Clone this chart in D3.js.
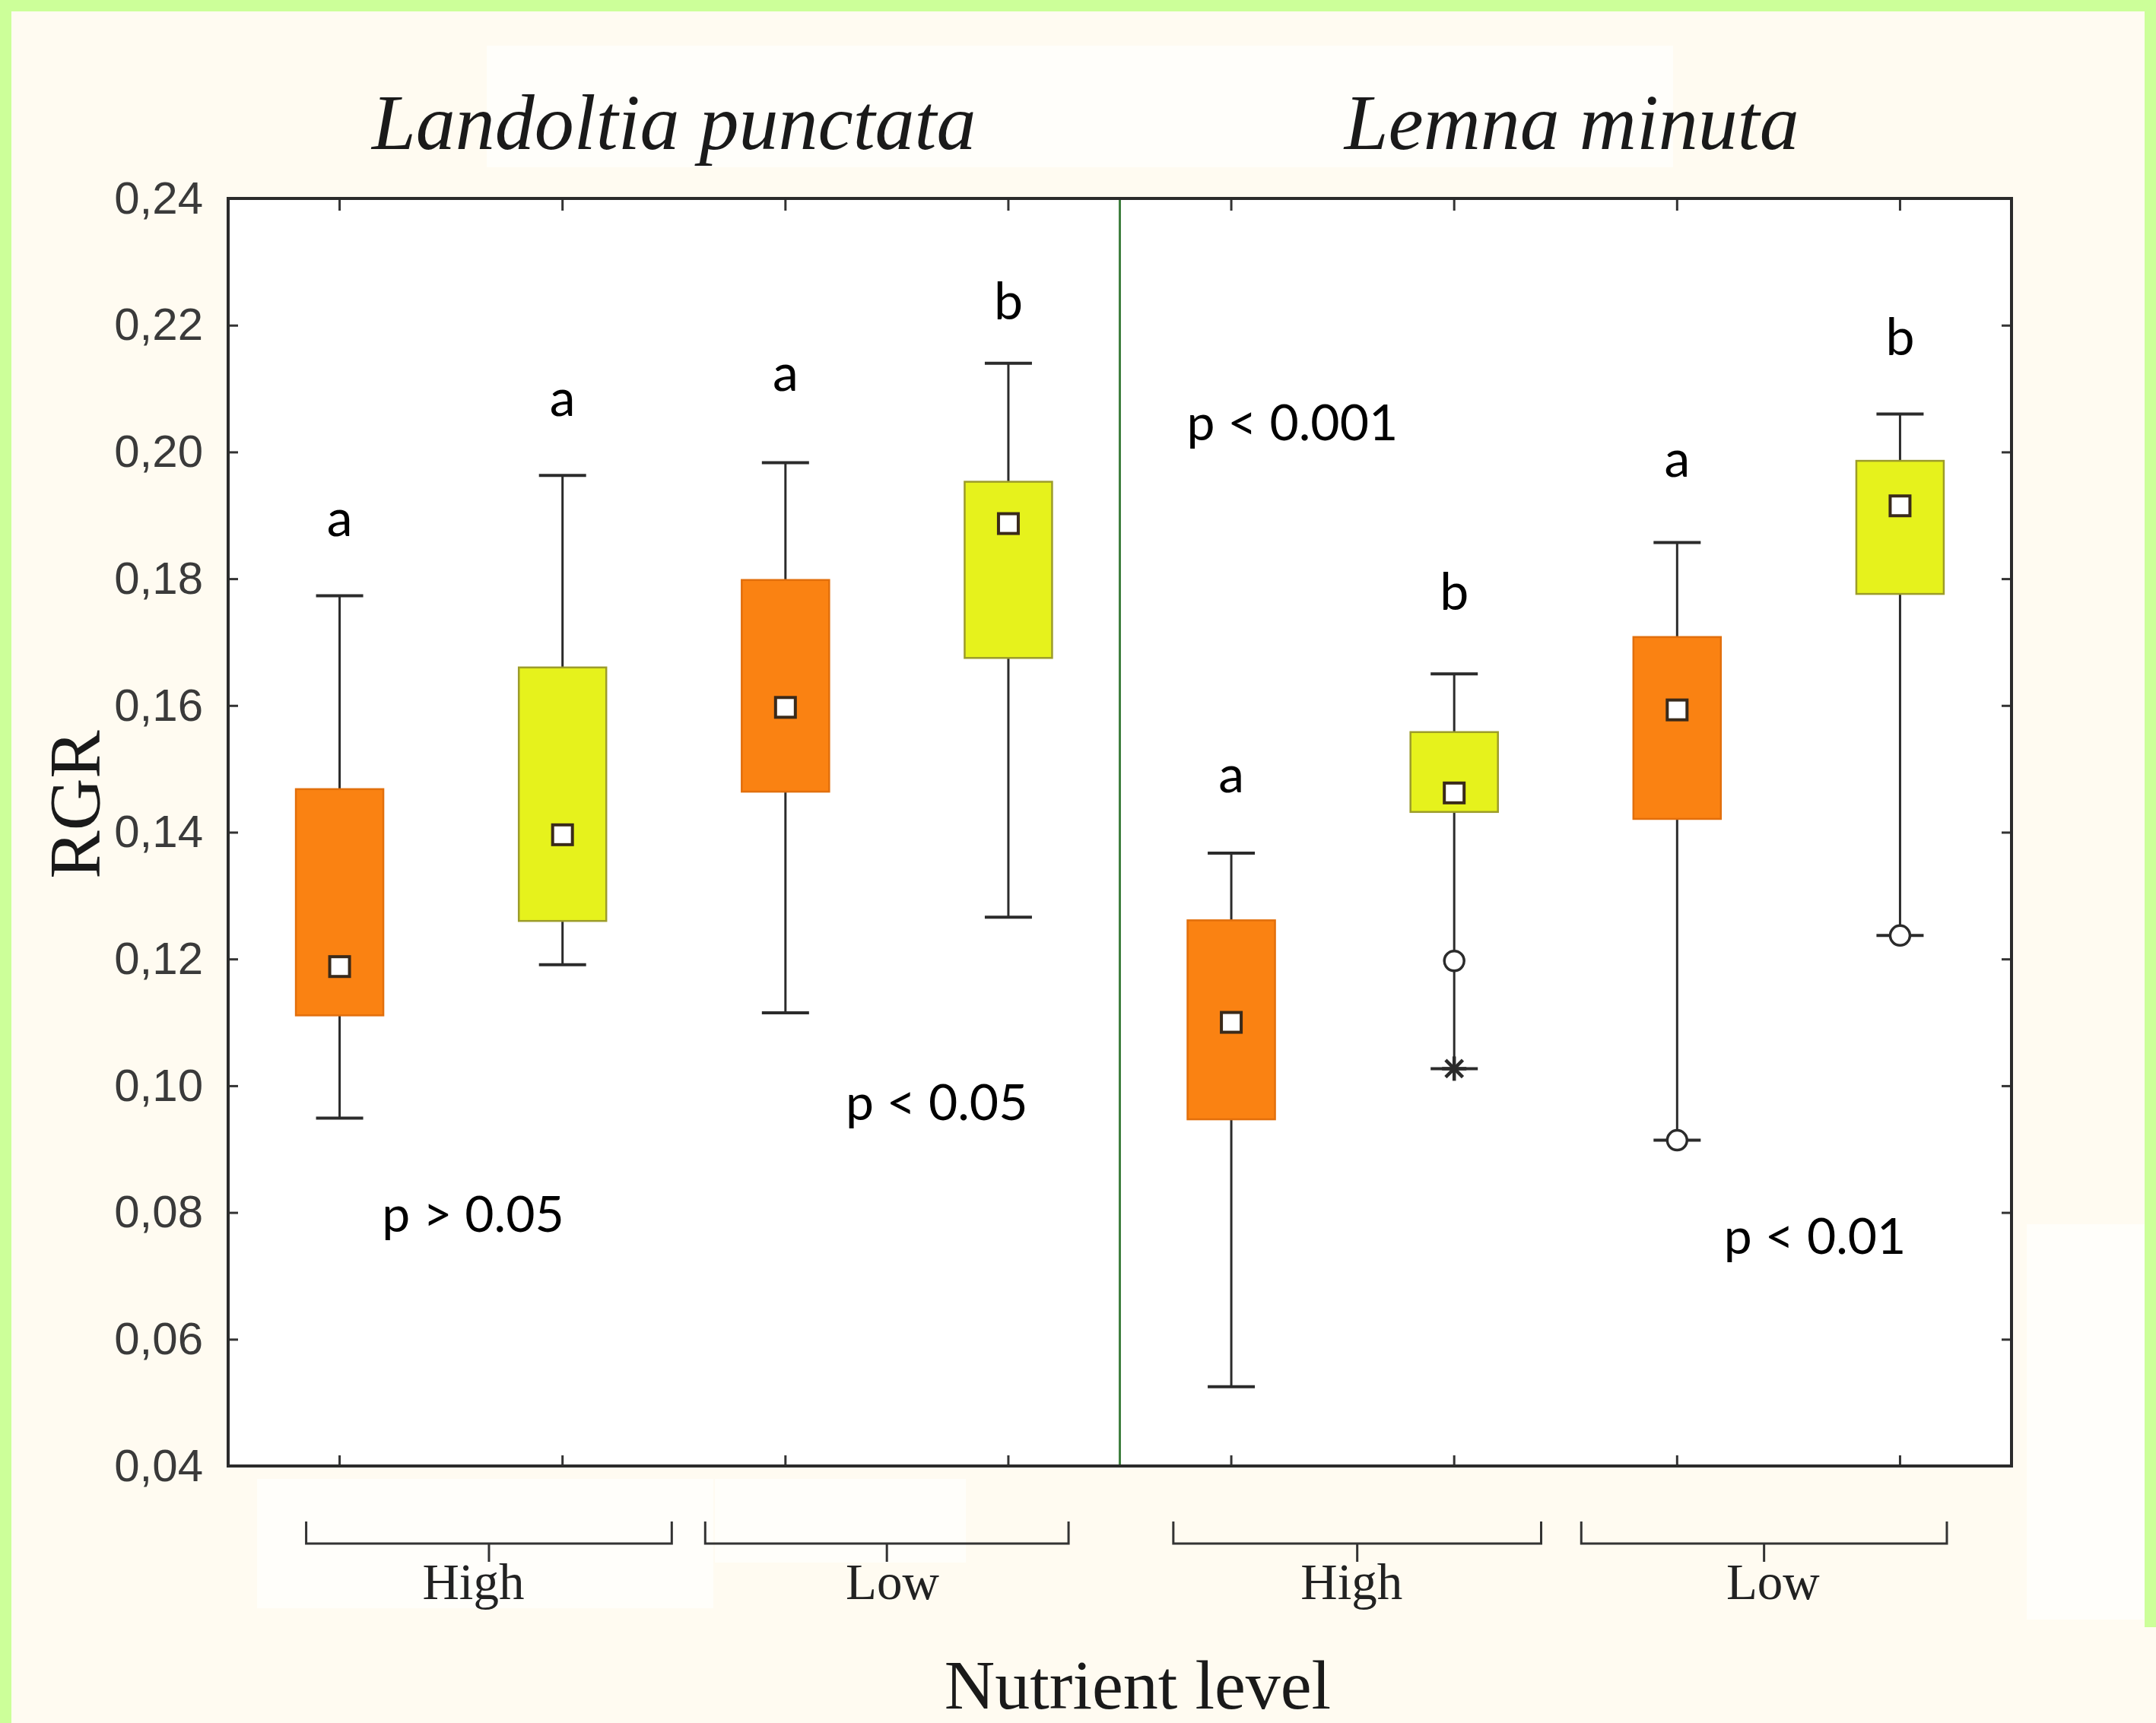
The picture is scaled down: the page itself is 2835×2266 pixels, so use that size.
<!DOCTYPE html>
<html>
<head>
<meta charset="utf-8">
<script src="https://cdn.jsdelivr.net/npm/d3@7"></script>
<style>
  html, body { margin: 0; padding: 0; background: #ffffff; }
  #boxChart { width: 2835px; height: 2266px; }
</style>
</head>
<body>
<div id="boxChart"></div>
<script>
// Data
const species = ["Landoltia punctata", "Lemna minuta"];
const nutrientLevels = ["High", "Low"];
const treatments = ["T1", "T2"];

// one entry per box, left to right
const whiskerHigh = [0.1773, 0.1963, 0.1983, 0.2140, 0.1367, 0.1650, 0.1857, 0.2060];
const boxHigh     = [0.1468, 0.1660, 0.1798, 0.1953, 0.1261, 0.1558, 0.1708, 0.1986];
const centre      = [0.1188, 0.1396, 0.1597, 0.1887, 0.1100, 0.1462, 0.1593, 0.1915];
const boxLow      = [0.1111, 0.1260, 0.1464, 0.1675, 0.0947, 0.1432, 0.1421, 0.1776];
const whiskerLow  = [0.0949, 0.1191, 0.1115, 0.1266, 0.0525, 0.1027, 0.0914, 0.1237];

const outlierBox   = [5, 5, 6, 7];
const outlierValue = [0.1197, 0.1027, 0.0914, 0.1237];
const outlierKind  = ["outlier", "extreme", "outlier", "outlier"];

const letters   = ["a", "a", "a", "b", "a", "b", "a", "b"];
const letterAt  = [0.1867, 0.2057, 0.2097, 0.2209, 0.1463, 0.1751, 0.1961, 0.2153];

const pTexts   = ["p > 0.05", "p < 0.05", "p < 0.001", "p < 0.01"];
const pAtIndex = [0.19, 2.27, 3.80, 6.21];
const pAtValue = [0.077, 0.0946, 0.2018, 0.0735];

const yTicks = [0.04, 0.06, 0.08, 0.10, 0.12, 0.14, 0.16, 0.18, 0.20, 0.22, 0.24];

setupGraph();

function setupGraph() {
    const width = 2835, height = 2266;
    const margin = {top: 261, right: 190, bottom: 338, left: 300};

    const container = d3.select("#boxChart");
    const svg = container.append("svg")
        .attr("width", width)
        .attr("height", height);

    // Background: cream page with a light green frame
    svg.append("rect").attr("width", width).attr("height", height).attr("fill", "#fffbf1");
    const patches = [[640, 60, 1560, 160], [338, 1945, 600, 170], [940, 1945, 330, 110], [2665, 1610, 170, 520]];
    svg.selectAll(".patch").data(patches).join("rect")
        .attr("class", "patch")
        .attr("x", d => d[0]).attr("y", d => d[1])
        .attr("width", d => d[2]).attr("height", d => d[3])
        .attr("fill", "#fffefa");
    svg.append("rect").attr("width", width).attr("height", 15).attr("fill", "#ccff99");
    svg.append("rect").attr("width", 15).attr("height", height).attr("fill", "#ccff99");
    svg.append("rect").attr("x", width - 15).attr("width", 15).attr("height", 2140).attr("fill", "#ccff99");

    // Categories: species x nutrient x treatment
    const keys = [];
    species.forEach(s => nutrientLevels.forEach(n => treatments.forEach(t => keys.push(`${s}|${n}|${t}`))));
    const boxes = keys.map((k, i) => ({
        key: k, i: i,
        treatment: k.split("|")[2],
        wh: whiskerHigh[i], bh: boxHigh[i], c: centre[i], bl: boxLow[i], wl: whiskerLow[i],
        letter: letters[i], letterAt: letterAt[i]
    }));

    const x = d3.scaleBand()
        .domain(keys)
        .range([margin.left, width - margin.right])
        .padding(0);
    const cx = k => x(k) + x.bandwidth() / 2;
    // fractional box index -> pixel, for annotations placed between boxes
    const xi = d3.scaleLinear().domain([0, keys.length - 1]).range([cx(keys[0]), cx(keys[keys.length - 1])]);

    const y = d3.scaleLinear()
        .domain([0.04, 0.24])
        .range([height - margin.bottom, margin.top]);

    const x0 = margin.left, x1 = width - margin.right;
    const y0 = margin.top, y1 = height - margin.bottom;

    // Plot area
    svg.append("rect")
        .attr("x", x0).attr("y", y0)
        .attr("width", x1 - x0).attr("height", y1 - y0)
        .attr("fill", "#ffffff");

    const fmt = d3.formatLocale({decimal: ",", thousands: ".", grouping: [3], currency: ["", ""]}).format(".2f");

    // Y axes, ticks pointing inward
    const yAxis = svg.append("g")
        .attr("transform", `translate(${x0},0)`)
        .call(d3.axisLeft(y).tickValues(yTicks).tickSize(-13).tickPadding(33).tickFormat(fmt));
    yAxis.select(".domain").remove();
    yAxis.selectAll("line").attr("stroke", "#333").attr("stroke-width", 3);
    yAxis.selectAll("text")
        .attr("font-family", "Liberation Sans, Arial, sans-serif")
        .attr("font-size", 60)
        .attr("fill", "#3a3a3a");

    const yRight = svg.append("g")
        .attr("transform", `translate(${x1},0)`)
        .call(d3.axisRight(y).tickValues(yTicks).tickSize(-13).tickFormat(""));
    yRight.select(".domain").remove();
    yRight.selectAll("line").attr("stroke", "#333").attr("stroke-width", 3);

    // X ticks at box centres, top and bottom
    const xTop = svg.append("g")
        .attr("transform", `translate(0,${y0})`)
        .call(d3.axisTop(x).tickSize(-16).tickFormat(""));
    const xBottom = svg.append("g")
        .attr("transform", `translate(0,${y1})`)
        .call(d3.axisBottom(x).tickSize(-14).tickFormat(""));
    [xTop, xBottom].forEach(g => {
        g.select(".domain").remove();
        g.selectAll("line").attr("stroke", "#333").attr("stroke-width", 3);
    });

    // Species divider
    svg.append("line")
        .attr("x1", x(keys[4])).attr("x2", x(keys[4]))
        .attr("y1", y0).attr("y2", y1)
        .attr("stroke", "#3f7f3f").attr("stroke-width", 3);

    // Frame
    svg.append("rect")
        .attr("x", x0).attr("y", y0)
        .attr("width", x1 - x0).attr("height", y1 - y0)
        .attr("fill", "none")
        .attr("stroke", "#2b2b2b").attr("stroke-width", 4);

    const fill = {T1: "#fa8212", T2: "#e6f21c"};
    const edge = {T1: "#e26f0c", T2: "#9c9c2a"};
    const boxW = 115, capW = 62;

    const g = svg.append("g");

    // Whiskers
    g.selectAll(".wh").data(boxes).join("line")
        .attr("x1", d => cx(d.key)).attr("x2", d => cx(d.key))
        .attr("y1", d => y(d.wh)).attr("y2", d => y(d.wl))
        .attr("stroke", "#2b2b2b").attr("stroke-width", 3);
    g.selectAll(".capTop").data(boxes).join("line")
        .attr("x1", d => cx(d.key) - capW / 2).attr("x2", d => cx(d.key) + capW / 2)
        .attr("y1", d => y(d.wh)).attr("y2", d => y(d.wh))
        .attr("stroke", "#2b2b2b").attr("stroke-width", 4);
    g.selectAll(".capBot").data(boxes).join("line")
        .attr("x1", d => cx(d.key) - capW / 2).attr("x2", d => cx(d.key) + capW / 2)
        .attr("y1", d => y(d.wl)).attr("y2", d => y(d.wl))
        .attr("stroke", "#2b2b2b").attr("stroke-width", 4);

    // Boxes
    g.selectAll(".box").data(boxes).join("rect")
        .attr("x", d => cx(d.key) - boxW / 2)
        .attr("y", d => y(d.bh))
        .attr("width", boxW)
        .attr("height", d => y(d.bl) - y(d.bh))
        .attr("fill", d => fill[d.treatment])
        .attr("stroke", d => edge[d.treatment])
        .attr("stroke-width", 2.5);

    // Centre markers
    g.selectAll(".mid").data(boxes).join("rect")
        .attr("x", d => cx(d.key) - 13)
        .attr("y", d => y(d.c) - 13)
        .attr("width", 26).attr("height", 26)
        .attr("fill", "#ffffff")
        .attr("stroke", "#3a2a1a").attr("stroke-width", 4);

    // Outliers and extremes
    const pts = outlierBox.map((b, i) => ({key: keys[b], v: outlierValue[i], kind: outlierKind[i]}));
    g.selectAll(".out").data(pts.filter(p => p.kind === "outlier")).join("circle")
        .attr("cx", d => cx(d.key)).attr("cy", d => y(d.v))
        .attr("r", 13)
        .attr("fill", "#ffffff")
        .attr("stroke", "#2b2b2b").attr("stroke-width", 3.5);
    const star = g.selectAll(".ext").data(pts.filter(p => p.kind === "extreme")).join("g")
        .attr("transform", d => `translate(${cx(d.key)},${y(d.v)})`);
    [0, 45, 90, 135].forEach(a => {
        star.append("line")
            .attr("x1", -16).attr("x2", 16)
            .attr("transform", `rotate(${a})`)
            .attr("stroke", "#2b2b2b").attr("stroke-width", 4.5);
    });

    // Significance letters
    g.selectAll(".letter").data(boxes).join("text")
        .attr("x", d => cx(d.key))
        .attr("y", d => y(d.letterAt))
        .attr("text-anchor", "middle")
        .attr("font-family", "Lato, sans-serif")
        .attr("font-size", 68)
        .attr("fill", "#000")
        .text(d => d.letter);

    // p-values
    g.selectAll(".pval").data(pTexts).join("text")
        .attr("x", (d, i) => xi(pAtIndex[i]))
        .attr("y", (d, i) => y(pAtValue[i]))
        .attr("font-family", "Lato, sans-serif")
        .attr("font-size", 66)
        .attr("fill", "#000")
        .text(d => d);

    // Species titles
    const panelMid = [(x0 + x(keys[4])) / 2, (x(keys[4]) + x1) / 2 + 8];
    svg.selectAll(".title").data(species).join("text")
        .attr("x", (d, i) => panelMid[i])
        .attr("y", 196)
        .attr("text-anchor", "middle")
        .attr("font-family", "Liberation Serif, Times New Roman, serif")
        .attr("font-style", "italic")
        .attr("font-size", 104)
        .attr("fill", "#1a1a1a")
        .text(d => d);

    // Nutrient brackets under the axis
    const bracketFrom  = [-0.15, 1.64, 3.74, 5.57];
    const bracketTo    = [1.49, 3.27, 5.39, 7.21];
    const bracketLabel = [0.60, 2.48, 4.54, 6.43];
    const groups = [];
    species.forEach(s => nutrientLevels.forEach(n => groups.push(n)));
    const by = 2030;
    const br = svg.selectAll(".bracket").data(groups).join("g");
    br.append("path")
        .attr("d", (d, i) => {
            const a = xi(bracketFrom[i]), b = xi(bracketTo[i]), m = (a + b) / 2;
            return `M${a},${by - 29}V${by}H${b}V${by - 29}M${m},${by}V${by + 24}`;
        })
        .attr("fill", "none")
        .attr("stroke", "#333").attr("stroke-width", 3);
    br.append("text")
        .attr("x", (d, i) => xi(bracketLabel[i]))
        .attr("y", 2103)
        .attr("text-anchor", "middle")
        .attr("font-family", "Liberation Serif, Times New Roman, serif")
        .attr("font-size", 67)
        .attr("fill", "#222")
        .text(d => d);

    // Axis titles
    svg.append("text")
        .attr("transform", "translate(131,1058) rotate(-90)")
        .attr("text-anchor", "middle")
        .attr("font-family", "Liberation Serif, Times New Roman, serif")
        .attr("font-size", 95)
        .attr("fill", "#1a1a1a")
        .text("RGR");
    svg.append("text")
        .attr("x", 1496)
        .attr("y", 2247)
        .attr("text-anchor", "middle")
        .attr("font-family", "Liberation Serif, Times New Roman, serif")
        .attr("font-size", 92)
        .attr("fill", "#1a1a1a")
        .text("Nutrient level");
}
</script>
</body>
</html>
